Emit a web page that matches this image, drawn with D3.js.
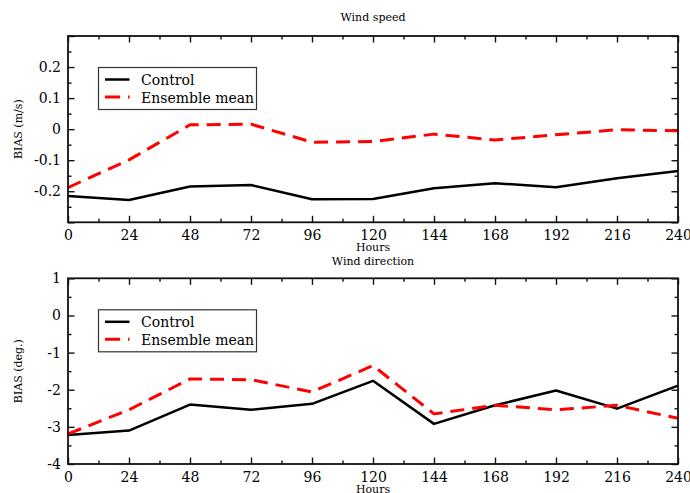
<!DOCTYPE html>
<html>
<head>
<meta charset="utf-8">
<script src="https://cdn.jsdelivr.net/npm/d3@7"></script>
<style>
  html, body { margin: 0; padding: 0; background: #fff; }
  svg { display: block; }
  text { font-family: "DejaVu Serif", serif; fill: #000; }
</style>
</head>
<body>
<svg id="chart" width="690" height="493"></svg>
<script>
// Forecast lead times (hours)
const hours = [0, 24, 48, 72, 96, 120, 144, 168, 192, 216, 240];
const hourLabels = ["0", "24", "48", "72", "96", "120", "144", "168", "192", "216", "240"];

// Wind speed bias (m/s)
const speedControl  = [-0.215, -0.228, -0.185, -0.180, -0.226, -0.225, -0.190, -0.174, -0.187, -0.158, -0.135];
const speedEnsemble = [-0.188, -0.099, 0.014, 0.016, -0.042, -0.040, -0.016, -0.035, -0.018, -0.002, -0.005];
const speedTicks = [-0.2, -0.1, 0, 0.1, 0.2];
const speedTickLabels = ["-0.2", "-0.1", "0", "0.1", "0.2"];

// Wind direction bias (deg.)
const dirControl  = [-3.22, -3.10, -2.40, -2.54, -2.38, -1.76, -2.92, -2.42, -2.02, -2.51, -1.89];
const dirEnsemble = [-3.19, -2.54, -1.71, -1.73, -2.06, -1.35, -2.65, -2.42, -2.54, -2.42, -2.77];
const dirTicks = [-4, -3, -2, -1, 0, 1];
const dirTickLabels = ["-4", "-3", "-2", "-1", "0", "1"];

const seriesNames = ["Control", "Ensemble mean"];

const svg = d3.select("#chart");
svg.append("rect").attr("width", 690).attr("height", 493).attr("fill", "#fff");

const left = 68, right = 678;
const x = d3.scaleLinear().domain([0, 240]).range([left, right]);
const xMinor = d3.range(12, 240, 24);

function panel(cfg) {
  const y = d3.scaleLinear().domain(cfg.domain).range([cfg.bottom, cfg.top]);
  const g = svg.append("g");
  const h = cfg.bottom - cfg.top;
  const majorLen = 6.5, minorLen = 3.5;

  function styleAxis(sel) {
    sel.select(".domain").remove();
    sel.selectAll(".tick line").attr("stroke", "#111").attr("stroke-width", 1.4);
  }

  // bottom axis with labels
  g.append("g").attr("transform", `translate(0,${cfg.bottom})`)
    .call(d3.axisBottom(x).tickValues(hours).tickSize(-majorLen).tickPadding(8)
      .tickFormat((d, i) => hourLabels[i]))
    .call(styleAxis)
    .call(s => s.selectAll("text").attr("font-size", 14).attr("font-family", "DejaVu Serif"));
  g.append("g").attr("transform", `translate(0,${cfg.bottom})`)
    .call(d3.axisBottom(x).tickValues(xMinor).tickSize(-minorLen).tickFormat(""))
    .call(styleAxis);
  // top axis (ticks only)
  g.append("g").attr("transform", `translate(0,${cfg.top})`)
    .call(d3.axisTop(x).tickValues(hours).tickSize(-majorLen).tickFormat(""))
    .call(styleAxis);
  g.append("g").attr("transform", `translate(0,${cfg.top})`)
    .call(d3.axisTop(x).tickValues(xMinor).tickSize(-minorLen).tickFormat(""))
    .call(styleAxis);

  // left axis
  g.append("g").attr("transform", `translate(${left},0)`)
    .call(d3.axisLeft(y).tickValues(cfg.majors).tickSize(-majorLen).tickPadding(7)
      .tickFormat(d => {
        const i = cfg.ticks.indexOf(d);
        return i >= 0 ? cfg.tickLabels[i] : "";
      }))
    .call(styleAxis)
    .call(s => s.selectAll("text").attr("font-size", 14).attr("font-family", "DejaVu Serif"));
  g.append("g").attr("transform", `translate(${left},0)`)
    .call(d3.axisLeft(y).tickValues(cfg.minors).tickSize(-minorLen).tickFormat(""))
    .call(styleAxis);
  // right axis (ticks only)
  g.append("g").attr("transform", `translate(${right},0)`)
    .call(d3.axisRight(y).tickValues(cfg.majors).tickSize(-majorLen).tickFormat(""))
    .call(styleAxis);
  g.append("g").attr("transform", `translate(${right},0)`)
    .call(d3.axisRight(y).tickValues(cfg.minors).tickSize(-minorLen).tickFormat(""))
    .call(styleAxis);

  // series lines
  const line = d3.line().x((d, i) => x(hours[i])).y(d => y(d));
  g.append("path").datum(cfg.control)
    .attr("d", line).attr("fill", "none")
    .attr("stroke", "#000").attr("stroke-width", 2.5).attr("stroke-linejoin", "round");
  g.append("path").datum(cfg.ensemble)
    .attr("d", line).attr("fill", "none")
    .attr("stroke", "#ff0000").attr("stroke-width", 3)
    .attr("stroke-dasharray", "14,8").attr("stroke-linejoin", "round");

  // frame
  g.append("rect")
    .attr("x", left).attr("y", cfg.top)
    .attr("width", right - left).attr("height", h)
    .attr("fill", "none").attr("stroke", "#111").attr("stroke-width", 1.8);

  // titles
  g.append("text").attr("x", (left + right) / 2).attr("y", cfg.titleY)
    .attr("text-anchor", "middle").attr("font-size", 11).text(cfg.title);
  g.append("text").attr("x", (left + right) / 2).attr("y", cfg.bottom + 29)
    .attr("text-anchor", "middle").attr("font-size", 11).text("Hours");
  g.append("text")
    .attr("transform", `translate(22,${(cfg.top + cfg.bottom) / 2}) rotate(-90)`)
    .attr("text-anchor", "middle").attr("font-size", 11).text(cfg.ylabel);

  // legend
  const lg = g.append("g").attr("transform", `translate(98.5,${cfg.top + 31.5})`);
  lg.append("rect").attr("width", 158).attr("height", 42)
    .attr("fill", "#fff").attr("stroke", "#333").attr("stroke-width", 1.2);
  const styles = [
    { stroke: "#000", width: 2.5, dash: null },
    { stroke: "#ff0000", width: 3, dash: "15,8" }
  ];
  seriesNames.forEach((name, i) => {
    const ry = 12 + i * 17.5;
    lg.append("line").attr("x1", 6.5).attr("x2", 31).attr("y1", ry).attr("y2", ry)
      .attr("stroke", styles[i].stroke).attr("stroke-width", styles[i].width)
      .attr("stroke-dasharray", styles[i].dash);
    lg.append("text").attr("x", 42.5).attr("y", ry + 5.5)
      .attr("font-size", 14).text(name);
  });
}

panel({
  top: 36, bottom: 222.3, domain: [-0.3, 0.3],
  majors: [-0.3, -0.2, -0.1, 0, 0.1, 0.2, 0.3],
  minors: [-0.25, -0.15, -0.05, 0.05, 0.15, 0.25],
  ticks: speedTicks, tickLabels: speedTickLabels,
  control: speedControl, ensemble: speedEnsemble,
  title: "Wind speed", titleY: 21, ylabel: "BIAS (m/s)"
});

panel({
  top: 278.3, bottom: 464, domain: [-4, 1],
  majors: dirTicks,
  minors: [-3.5, -2.5, -1.5, -0.5, 0.5],
  ticks: dirTicks, tickLabels: dirTickLabels,
  control: dirControl, ensemble: dirEnsemble,
  title: "Wind direction", titleY: 264.5, ylabel: "BIAS (deg.)"
});
</script>
</body>
</html>
